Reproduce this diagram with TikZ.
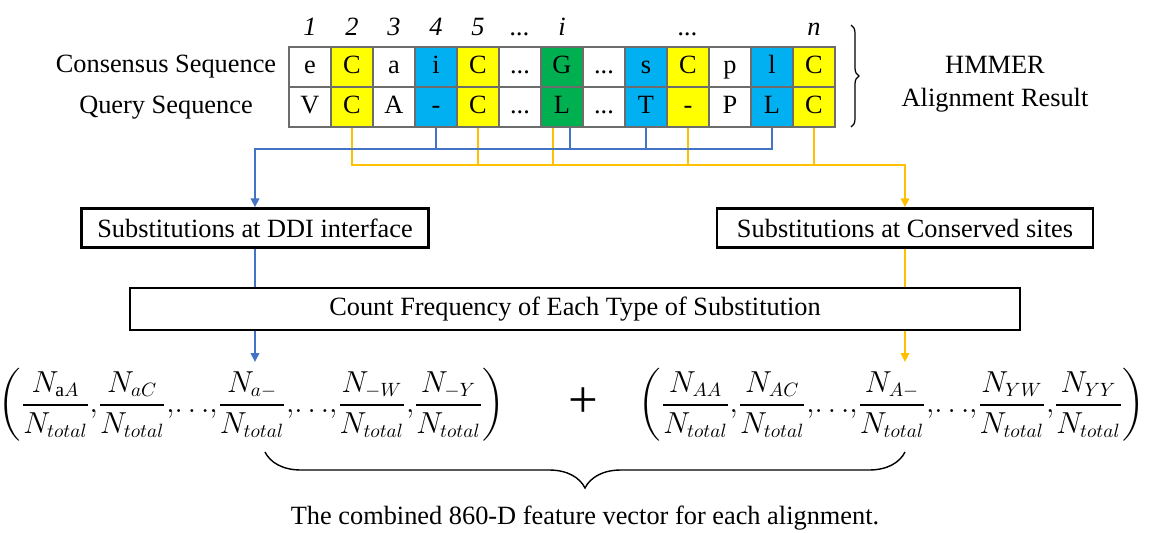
\documentclass[tikz,border=0pt]{standalone}
\usepackage{amsmath}
\usepackage{fontspec}
\setmainfont{Liberation Serif}
\usetikzlibrary{arrows.meta,decorations.pathreplacing}

\definecolor{celly}{HTML}{FFFF00}
\definecolor{cellb}{HTML}{00B0F0}
\definecolor{cellg}{HTML}{00B050}
\definecolor{ddiblue}{HTML}{4472C4}
\definecolor{conorange}{HTML}{FFC000}

\newcommand{\nfr}[1]{\dfrac{N_{#1}}{N_{total}}}

\begin{document}
\begin{tikzpicture}[x=0.02cm,y=-0.02cm,>={Triangle[length=1.8mm,width=1.7mm]},
    font=\fontsize{15}{18}\selectfont,
    cell/.style={draw=gray!85!black,line width=0.8pt,minimum width=0.84cm,minimum height=0.8cm,
        inner sep=0pt,text height=2ex,text depth=0.5ex},
    idx/.style={anchor=base,inner sep=0pt,font=\fontsize{15}{18}\selectfont\itshape},
    box/.style={draw,line width=1.4pt,minimum height=0.78cm,inner sep=0pt},
    vec/.style={inner sep=0pt,font=\fontsize{16}{19}\selectfont},
    ddiline/.style={draw=ddiblue,line width=1.1pt},
    conline/.style={draw=conorange,line width=1.1pt}]
    \useasboundingbox (0,0) rectangle (1153,532);

    % row labels
    \node (cslab) at (166,67) {Consensus Sequence};
    \node (qslab) at (166,108) {Query Sequence};

    % column numbers
    \node[idx] (n1) at (310,35) {1};
    \node[idx] (n2) at (352,35) {2};
    \node[idx] (n3) at (394,35) {3};
    \node[idx] (n4) at (436,35) {4};
    \node[idx] (n5) at (478,35) {5};
    \node[idx] (n6) at (520,35) {...};
    \node[idx] (n7) at (562,35) {i};
    \node[idx] (n10) at (688,35) {...};
    \node[idx] (n13) at (814,35) {n};

    % consensus row
    \node[cell] (c1) at (310,67) {e};
    \node[cell,fill=celly] (c2) at (352,67) {C};
    \node[cell] (c3) at (394,67) {a};
    \node[cell,fill=cellb] (c4) at (436,67) {i};
    \node[cell,fill=celly] (c5) at (478,67) {C};
    \node[cell] (c6) at (520,67) {...};
    \node[cell,fill=cellg] (c7) at (562,67) {G};
    \node[cell] (c8) at (604,67) {...};
    \node[cell,fill=cellb] (c9) at (646,67) {s};
    \node[cell,fill=celly] (c10) at (688,67) {C};
    \node[cell] (c11) at (730,67) {p};
    \node[cell,fill=cellb] (c12) at (772,67) {l};
    \node[cell,fill=celly] (c13) at (814,67) {C};

    % query row
    \node[cell] (q1) at (310,107) {V};
    \node[cell,fill=celly] (q2) at (352,107) {C};
    \node[cell] (q3) at (394,107) {A};
    \node[cell,fill=cellb] (q4) at (436,107) {-};
    \node[cell,fill=celly] (q5) at (478,107) {C};
    \node[cell] (q6) at (520,107) {...};
    \node[cell,fill=cellg] (q7) at (562,107) {L};
    \node[cell] (q8) at (604,107) {...};
    \node[cell,fill=cellb] (q9) at (646,107) {T};
    \node[cell,fill=celly] (q10) at (688,107) {-};
    \node[cell] (q11) at (730,107) {P};
    \node[cell,fill=cellb] (q12) at (772,107) {L};
    \node[cell,fill=celly] (q13) at (814,107) {C};

    \coordinate (hmtop) at (851,25);
    \coordinate (hmbot) at (851,127);
    \draw[decorate,decoration={brace,amplitude=0.16cm},line width=0.7pt] (hmtop) -- (hmbot);
    \node[align=center,font=\fontsize{15}{19}\selectfont] (hmmer) at (995,84) {HMMER\\Alignment Result};

    % boxes
    \node[box,minimum width=6.94cm] (ddi) at (255,228) {Substitutions at DDI interface};
    \node[box,minimum width=7.52cm] (cons) at (905,228) {Substitutions at Conserved sites};
    \node[box,minimum width=17.8cm,minimum height=0.84cm] (count) at (575,309) {Count Frequency of Each Type of Substitution};

    % connectors
    \coordinate (ddihub) at (255,149);
    \coordinate (conhub) at (905,165);
    \coordinate (ddiend) at (255,362);
    \coordinate (conend) at (905,362);

    \draw[conline,->] (q2.south) |- (conhub) -- (cons.north);
    \draw[conline] (q5.south) -- (q5.south |- conhub);
    \draw[conline] ([xshift=-0.18cm]q7.south) -- ([xshift=-0.18cm]q7.south |- conhub);
    \draw[conline] (q10.south) -- (q10.south |- conhub);
    \draw[conline] (q13.south) -- (q13.south |- conhub);

    \draw[ddiline,->] (q12.south) |- (ddihub) -- (ddi.north);
    \draw[ddiline] (q4.south) -- (q4.south |- ddihub);
    \draw[ddiline] ([xshift=0.16cm]q7.south) -- ([xshift=0.16cm]q7.south |- ddihub);
    \draw[ddiline] (q9.south) -- (q9.south |- ddihub);

    \draw[ddiline] (ddi.south) -- (ddi.south |- count.north);
    \draw[conline] (cons.south) -- (cons.south |- count.north);
    \draw[ddiline,->] (ddi.south |- count.south) -- (ddiend);
    \draw[conline,->] (cons.south |- count.south) -- (conend);

    % feature vectors
    \node[vec] (ddivec) at (252,405)
        {$\left(\nfr{\mathrm{a}A}{,}\nfr{aC}{,}{\ldots}{,}\nfr{a-}{,}{\ldots}{,}\nfr{-W}{,}\nfr{-Y}\right)$};
    \node[font=\fontsize{30}{32}\selectfont] (plus) at (583,403) {+};
    \node[vec] (convec) at (892,405)
        {$\left(\nfr{AA}{,}\nfr{AC}{,}{\ldots}{,}\nfr{A-}{,}{\ldots}{,}\nfr{YW}{,}\nfr{YY}\right)$};

    \coordinate (brl) at (265,452);
    \coordinate (brr) at (905,452);
    \draw[decorate,decoration={brace,mirror,amplitude=0.72cm},line width=0.8pt] (brl) -- (brr);
    \node (caption) at (585,518) {The combined 860-D feature vector for each alignment.};

\end{tikzpicture}
\end{document}
